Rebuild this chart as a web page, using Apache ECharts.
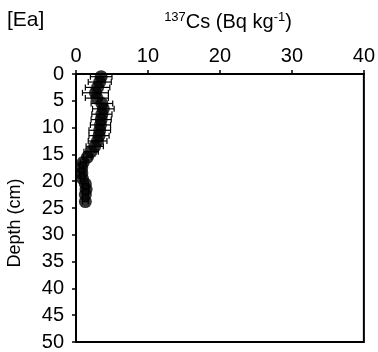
<!DOCTYPE html>
<html>
<head>
<meta charset="utf-8">
<script src="https://cdn.jsdelivr.net/npm/echarts@6/dist/echarts.min.js"></script>
<style>
  html, body { margin: 0; padding: 0; background: #fff; }
  #main { width: 378px; height: 352px; }
</style>
</head>
<body>
<div id="main"></div>
<script>
// depth of each sample (cm), 137Cs activity and its error (Bq kg-1)
const depths = [0.5, 1.5, 2.5, 3.5, 4.5, 5.5, 6.5, 7.5, 8.5, 9.5, 10.5, 11.5,
  12.5, 13.5, 14.5, 15.5, 16.5, 17.5, 18.5, 19.5, 20.5, 21.5, 22.5, 23.8];
const cs137 = [3.5, 3.3, 3.0, 2.7, 2.9, 3.6, 3.8, 3.6, 3.5, 3.4, 3.3, 3.2,
  3.0, 2.6, 2.1, 1.6, 1.0, 0.8, 0.8, 0.9, 1.3, 1.4, 1.3, 1.3];
const cs137Err = [1.5, 1.6, 1.7, 1.8, 1.6, 1.5, 1.5, 1.4, 1.4, 1.4, 1.5, 1.4,
  1.3, 1.2, 1.0, 0.6, 0.4, 0.3, 0.3, 0.3, 0.4, 0.4, 0.4, 0.4];
const xTicks = [0, 40, 10];   // min, max, interval
const yTicks = [0, 50, 5];

const font = 'Liberation Sans, Arial, sans-serif';
const chart = echarts.init(document.getElementById('main'));

const points = depths.map((d, i) => [cs137[i], d]);
const errs = depths.map((d, i) => [cs137[i], d, cs137Err[i]]);

const option = {
  animation: false,
  backgroundColor: '#fff',
  textStyle: { fontFamily: font, color: '#000' },
  grid: {
    left: 76, top: 74, width: 288, height: 269,
    show: true, borderColor: '#000', borderWidth: 2,
    backgroundColor: 'transparent'
  },
  graphic: [
    {
      type: 'text', left: 7, top: 10,
      style: { text: '[Ea]', font: '21px ' + font, fill: '#000' }
    },
    {
      type: 'text', x: 228, y: 22,
      style: {
        text: '{sup|137}Cs (Bq kg{sup|-1})',
        align: 'center', verticalAlign: 'middle',
        font: '20px ' + font, fill: '#000',
        rich: {
          sup: { fontSize: 13, verticalAlign: 'top', lineHeight: 23, fontFamily: font }
        }
      }
    },
    {
      type: 'text', x: 15, y: 223, rotation: Math.PI / 2,
      style: {
        text: 'Depth (cm)', align: 'center', verticalAlign: 'middle',
        font: '18px ' + font, fill: '#000'
      }
    }
  ],
  xAxis: {
    type: 'value', position: 'top',
    min: xTicks[0], max: xTicks[1], interval: xTicks[2],
    axisLine: { show: true, lineStyle: { color: '#000', width: 2 } },
    axisTick: { show: true, inside: false, length: 4, lineStyle: { color: '#000', width: 1.5 } },
    axisLabel: { color: '#000', fontSize: 20, fontFamily: font, margin: 8 },
    splitLine: { show: false }
  },
  yAxis: {
    type: 'value', inverse: true,
    min: yTicks[0], max: yTicks[1], interval: yTicks[2],
    axisLine: { show: true, lineStyle: { color: '#000', width: 2 } },
    axisTick: { show: true, inside: false, length: 4, lineStyle: { color: '#000', width: 1.5 } },
    axisLabel: { color: '#000', fontSize: 20, fontFamily: font, margin: 12 },
    splitLine: { show: false }
  },
  series: [
    {
      type: 'custom',
      data: errs,
      encode: { x: 0, y: 1 },
      z: 1,
      renderItem: function (params, api) {
        const x = api.value(0), d = api.value(1), e = api.value(2);
        const lo = api.coord([x - e, d]);
        const hi = api.coord([x + e, d]);
        const cap = 3;
        const st = { stroke: '#000', lineWidth: 1.2 };
        return {
          type: 'group',
          children: [
            { type: 'line', shape: { x1: lo[0], y1: lo[1], x2: hi[0], y2: hi[1] }, style: st },
            { type: 'line', shape: { x1: lo[0], y1: lo[1] - cap, x2: lo[0], y2: lo[1] + cap }, style: st },
            { type: 'line', shape: { x1: hi[0], y1: hi[1] - cap, x2: hi[0], y2: hi[1] + cap }, style: st }
          ]
        };
      }
    },
    {
      type: 'scatter',
      data: points,
      symbol: 'circle',
      symbolSize: 13,
      z: 3,
      itemStyle: { color: '#000' }
    }
  ]
};

chart.setOption(option);
</script>
</body>
</html>
